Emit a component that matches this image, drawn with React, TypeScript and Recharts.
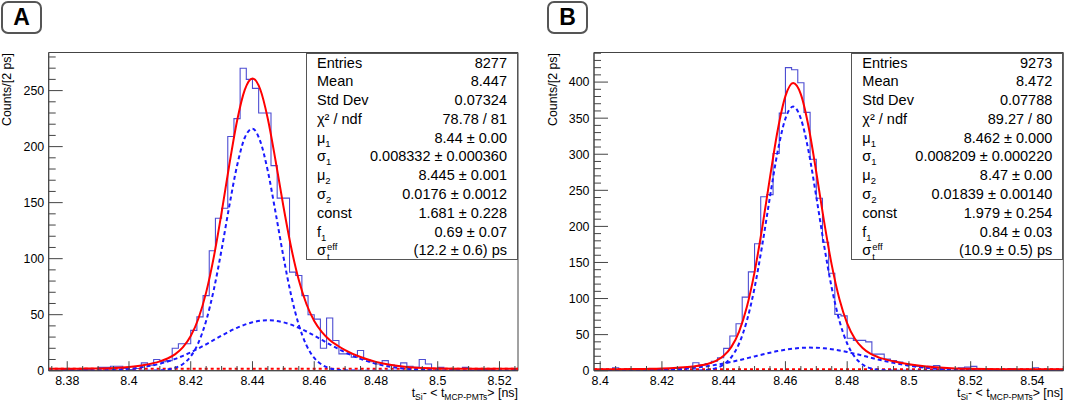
import React from 'react';
import { ComposedChart, Line, XAxis, YAxis, ReferenceLine, ReferenceArea } from 'recharts';

const FONT = '"Liberation Sans", Arial, Helvetica, sans-serif';

// ---------- data ----------
const binWidth = 0.002;
const aStart = 8.374;
const aEnd = 8.526;
const bStart = 8.398;
const bEnd = 8.55;

const aCounts = [
  2, 2, 1, 1, 0, 1, 1, 2, 3, 3,
  4, 4, 2, 1, 2, 7, 5, 10, 8, 9,
  20, 24, 24, 36, 48, 67, 107, 136, 145, 209,
  225, 270, 260, 252, 230, 230, 183, 154, 154, 88,
  85, 67, 50, 46, 20, 47, 27, 15, 15, 12,
  18, 10, 8, 6, 9, 5, 4, 7, 4, 3,
  10, 6, 2, 3, 2, 1, 2, 3, 2, 1,
  1, 1, 0, 0, 2, 1,
];

const bCounts = [
  1, 2, 1, 4, 1, 0, 1, 2, 1, 2,
  3, 2, 1, 3, 4, 5, 11, 8, 10, 13,
  18, 31, 48, 65, 102, 137, 176, 241, 244, 301,
  357, 420, 417, 399, 358, 293, 239, 178, 135, 78,
  76, 45, 42, 42, 40, 23, 23, 16, 14, 12,
  10, 8, 6, 5, 6, 7, 4, 3, 3, 4,
  5, 6, 3, 2, 2, 1, 2, 3, 1, 2,
  1, 4, 2, 1, 2, 2,
];

const aFitX = [
  8.374, 8.38, 8.385, 8.39, 8.395, 8.4, 8.405, 8.41, 8.4125, 8.415,
  8.4175, 8.42, 8.4225, 8.425, 8.4275, 8.43, 8.4325, 8.435, 8.4375, 8.44,
  8.4425, 8.445, 8.4475, 8.45, 8.4525, 8.455, 8.4575, 8.46, 8.4625, 8.465,
  8.4675, 8.47, 8.475, 8.48, 8.485, 8.49, 8.495, 8.5, 8.51, 8.526,
];
const aTotal = [
  1.7, 1.75, 1.85, 2.05, 2.5, 3.4, 5.1, 8.3, 10.9, 14.8,
  21.0, 30.9, 46.6, 69.9, 101.8, 141.1, 183.8, 222.9, 250.7, 260.9,
  251.2, 224.5, 187.2, 147, 110.4, 80.9, 59.3, 44.4, 34.5, 27.5,
  22.5, 18.4, 12.2, 7.9, 5.1, 3.4, 2.5, 2.0, 1.75, 1.7,
];
const aNarrow = [
  0, 0, 0, 0, 0, 0, 0, 0.36, 1.0, 2.6,
  6.0, 12.8, 25.0, 44.6, 72.6, 108.1, 147.1, 182.9, 207.9, 216,
  204.9, 177.8, 140.9, 102.1, 67.6, 40.9, 22.6, 11.4, 5.3, 2.2,
  0.86, 0.3, 0.03, 0, 0, 0, 0, 0, 0, 0,
];
const aWide = [
  0.02, 0.05, 0.13, 0.34, 0.8, 1.71, 3.4, 6.2, 8.2, 10.5,
  13.3, 16.4, 19.9, 23.6, 27.5, 31.3, 35.0, 38.3, 41.1, 43.2,
  44.6, 45, 44.6, 43.2, 41.1, 38.3, 35.0, 31.3, 27.5, 23.6,
  19.9, 16.4, 10.5, 6.2, 3.4, 1.71, 0.8, 0.34, 0.05, 0.01,
];
const aConst = 1.681;

const bFitX = [
  8.398, 8.405, 8.41, 8.415, 8.42, 8.425, 8.43, 8.435, 8.4375, 8.44,
  8.4425, 8.445, 8.4475, 8.45, 8.4525, 8.455, 8.4575, 8.46, 8.4625, 8.465,
  8.4675, 8.47, 8.4725, 8.475, 8.4775, 8.48, 8.4825, 8.485, 8.4875, 8.49,
  8.495, 8.5, 8.505, 8.51, 8.515, 8.52, 8.53, 8.55,
];
const bTotal = [
  2.0, 2.07, 2.2, 2.5, 3.0, 4.1, 5.9, 9.7, 13.6, 20.6,
  33, 54.3, 88.2, 136.6, 198.7, 268, 333.3, 380.5, 398.6, 383,
  338.1, 275, 207.4, 146.6, 99, 65.6, 44.3, 31.5, 23.7, 18.9,
  13, 9, 6.2, 4.35, 3.2, 2.6, 2.1, 2.0,
];
const bNarrow = [
  0, 0, 0, 0, 0, 0, 0.14, 1.34, 3.5, 8.6,
  18.8, 37.7, 69, 114.8, 174.3, 241.1, 304.1, 349.4, 366, 349.4,
  304.1, 241.1, 174.3, 114.8, 69, 37.7, 18.8, 8.6, 3.5, 1.34,
  0.14, 0, 0, 0, 0, 0, 0, 0,
];
const bWide = [
  0.02, 0.09, 0.22, 0.5, 1.06, 2.08, 3.8, 6.4, 8.1, 10.0,
  12.2, 14.6, 17.2, 19.8, 22.4, 24.9, 27.2, 29.1, 30.6, 31.6,
  32, 31.9, 31.1, 29.8, 28.0, 25.9, 23.5, 20.9, 18.2, 15.6,
  10.9, 7.0, 4.2, 2.35, 1.22, 0.59, 0.11, 0.0,
];
const bConst = 1.979;

const aXMajor = [8.38, 8.4, 8.42, 8.44, 8.46, 8.48, 8.5, 8.52];
const bXMajor = [8.4, 8.42, 8.44, 8.46, 8.48, 8.5, 8.52, 8.54];
const aYMajor = [0, 50, 100, 150, 200, 250];
const bYMajor = [0, 50, 100, 150, 200, 250, 300, 350, 400];
const aYMax = 284;
const bYMax = 441;

const statLabelsKeys = ['Entries', 'Mean', 'Std Dev', 'chi', 'mu1', 'sigma1', 'mu2', 'sigma2', 'const', 'f1', 'seff'];
const aStatValues = ['8277', '8.447', '0.07324', '78.78 / 81', '8.44 ± 0.00', '0.008332 ± 0.000360', '8.445 ± 0.001', '0.0176 ± 0.0012', '1.681 ± 0.228', '0.69 ± 0.07', '(12.2 ± 0.6) ps'];
const bStatValues = ['9273', '8.472', '0.07788', '89.27 / 80', '8.462 ± 0.000', '0.008209 ± 0.000220', '8.47 ± 0.00', '0.01839 ± 0.00140', '1.979 ± 0.254', '0.84 ± 0.03', '(10.9 ± 0.5) ps'];

// ---------- helpers ----------
function range(from: number, to: number, step: number) {
  const out: number[] = [];
  for (let i = 0; from + i * step <= to + 1e-9; i++) out.push(+(from + i * step).toFixed(4));
  return out;
}
const fmt = (v: number) => String(parseFloat(v.toFixed(3)));

function histPoints(start: number, counts: number[]) {
  const pts = counts.map((c, i) => ({ x: +(start + i * binWidth).toFixed(4), y: c }));
  pts.push({ x: +(start + counts.length * binWidth).toFixed(4), y: counts[counts.length - 1] });
  return pts;
}
function curve(xs: number[], ys: number[]) {
  return xs.map((x, i) => ({ x, y: ys[i] }));
}

const HIST = '#4d4dd2';
const AXIS = '#444';

const Sub = ({ children }: { children: React.ReactNode }) => (
  <span style={{ fontSize: 9.5, position: 'relative', top: 4 }}>{children}</span>
);

function statLabel(k: string): React.ReactNode {
  switch (k) {
    case 'chi':
      return <span>χ² / ndf</span>;
    case 'mu1':
      return <span>μ<Sub>1</Sub></span>;
    case 'mu2':
      return <span>μ<Sub>2</Sub></span>;
    case 'sigma1':
      return <span>σ<Sub>1</Sub></span>;
    case 'sigma2':
      return <span>σ<Sub>2</Sub></span>;
    case 'f1':
      return <span>f<Sub>1</Sub></span>;
    case 'seff':
      return (
        <span>
          σ
          <span style={{ display: 'inline-block', position: 'relative', width: 20, height: 14 }}>
            <span style={{ position: 'absolute', left: 1, top: 1, fontSize: 9.5, lineHeight: 1 }}>eff</span>
            <span style={{ position: 'absolute', left: 1, top: 11, fontSize: 9.5, lineHeight: 1 }}>t</span>
          </span>
        </span>
      );
    default:
      return <span>{k}</span>;
  }
}

const XTick = (props: any) => {
  const { x, payload, majors, axisY } = props;
  const v = payload.value as number;
  const isMajor = majors.some((m: number) => Math.abs(m - v) < 1e-6);
  const y0 = axisY;
  return (
    <g>
      <line x1={x} x2={x} y1={y0} y2={y0 - (isMajor ? 9.5 : 4.7)} stroke={AXIS} strokeWidth={1} />
      {isMajor && (
        <text x={x} y={y0 + 14} textAnchor="middle" fontSize={12.4} fontFamily={FONT} fill="#000">
          {fmt(v)}
        </text>
      )}
    </g>
  );
};

const YTick = (props: any) => {
  const { y, payload, majors, axisX } = props;
  const v = payload.value as number;
  const isMajor = majors.includes(v);
  const x0 = axisX;
  return (
    <g>
      <line x1={x0} x2={x0 + (isMajor ? 14 : 7)} y1={y} y2={y} stroke={AXIS} strokeWidth={1} />
      {isMajor && (
        <text x={x0 - 4.5} y={y + 4.4} textAnchor="end" fontSize={12.4} fontFamily={FONT} fill="#000">
          {v}
        </text>
      )}
    </g>
  );
};

type PanelCfg = {
  letter: string;
  left: number;
  width: number;
  plotLeft: number;
  plotRight: number;
  start: number;
  end: number;
  counts: number[];
  fitX: number[];
  total: number[];
  narrow: number[];
  wide: number[];
  constant: number;
  xMajor: number[];
  yMajor: number[];
  yMax: number;
  stats: string[];
};

const PLOT_TOP = 52.5;
const PLOT_BOTTOM = 370.7;
const H = 401;

const panels: PanelCfg[] = [
  {
    letter: 'A', left: 0, width: 530, plotLeft: 48.7, plotRight: 518,
    start: aStart, end: aEnd, counts: aCounts, fitX: aFitX, total: aTotal, narrow: aNarrow, wide: aWide,
    constant: aConst, xMajor: aXMajor, yMajor: aYMajor, yMax: aYMax, stats: aStatValues,
  },
  {
    letter: 'B', left: 546, width: 519, plotLeft: 594, plotRight: 1063.3,
    start: bStart, end: bEnd, counts: bCounts, fitX: bFitX, total: bTotal, narrow: bNarrow, wide: bWide,
    constant: bConst, xMajor: bXMajor, yMajor: bYMajor, yMax: bYMax, stats: bStatValues,
  },
];

const AXIS_W = 20;
const AXIS_H = 20;

function Panel({ cfg }: { cfg: PanelCfg }) {
  const mLeft = cfg.plotLeft - cfg.left;
  const mRight = cfg.left + cfg.width - cfg.plotRight;
  const xTicks = range(Math.ceil(cfg.start / 0.005 - 1e-6) * 0.005, cfg.end, 0.005);
  const yTicks = range(0, Math.floor(cfg.yMax / 10) * 10, 10);
  const hist = histPoints(cfg.start, cfg.counts);
  const boxW = 212;
  return (
    <div style={{ position: 'absolute', left: cfg.left, top: 0, width: cfg.width, height: H }}>
      <ComposedChart
        width={cfg.width}
        height={H}
        margin={{ top: PLOT_TOP, right: mRight, bottom: H - PLOT_BOTTOM - AXIS_H, left: mLeft - AXIS_W }}
      >
        <XAxis
          type="number"
          dataKey="x"
          domain={[cfg.start, cfg.end]}
          allowDataOverflow
          ticks={xTicks}
          interval={0}
          height={AXIS_H}
          tickSize={0}
          tickMargin={0}
          tickLine={false}
          axisLine={{ stroke: AXIS, strokeWidth: 1 }}
          tick={(p: any) => <XTick {...p} majors={cfg.xMajor} axisY={PLOT_BOTTOM} />}
        />
        <YAxis
          type="number"
          dataKey="y"
          domain={[0, cfg.yMax]}
          allowDataOverflow
          ticks={yTicks}
          interval={0}
          width={AXIS_W}
          tickSize={0}
          tickMargin={0}
          tickLine={false}
          axisLine={{ stroke: AXIS, strokeWidth: 1 }}
          tick={(p: any) => <YTick {...p} majors={cfg.yMajor} axisX={mLeft} />}
        />
        <ReferenceArea
          x1={cfg.start}
          x2={cfg.end}
          y1={0}
          y2={cfg.yMax}
          fill="none"
          fillOpacity={0}
          stroke={AXIS}
          strokeWidth={1}
        />
        <Line
          data={hist}
          dataKey="y"
          type="stepAfter"
          stroke={HIST}
          strokeWidth={1.1}
          dot={false}
          activeDot={false}
          isAnimationActive={false}
        />
        <ReferenceLine y={cfg.constant} stroke="#ff0000" strokeWidth={2} strokeDasharray="3 3" />
        <Line
          data={curve(cfg.fitX, cfg.narrow)}
          dataKey="y"
          type="monotone"
          stroke="#1a1aff"
          strokeWidth={2}
          strokeDasharray="4 3"
          dot={false}
          activeDot={false}
          isAnimationActive={false}
        />
        <Line
          data={curve(cfg.fitX, cfg.wide)}
          dataKey="y"
          type="monotone"
          stroke="#1a1aff"
          strokeWidth={2}
          strokeDasharray="4 3"
          dot={false}
          activeDot={false}
          isAnimationActive={false}
        />
        <Line
          data={curve(cfg.fitX, cfg.total)}
          dataKey="y"
          type="monotone"
          stroke="#ff0000"
          strokeWidth={2}
          dot={false}
          activeDot={false}
          isAnimationActive={false}
        />
      </ComposedChart>

      {/* panel badge */}
      <div
        style={{
          position: 'absolute', left: 1, top: 1, width: 41, height: 33, boxSizing: 'border-box',
          border: '2.5px solid #555', borderRadius: 7, display: 'flex', alignItems: 'center',
          justifyContent: 'center', fontFamily: FONT, fontWeight: 'bold', fontSize: 23, color: '#000',
        }}
      >
        {cfg.letter}
      </div>

      {/* y axis title */}
      <div
        style={{
          position: 'absolute', left: 0, top: PLOT_TOP + 200, width: 200, height: 14, lineHeight: '14px',
          textAlign: 'right', transform: 'rotate(-90deg)', transformOrigin: '0 0',
          fontFamily: FONT, fontSize: 12.4, color: '#000', whiteSpace: 'nowrap',
        }}
      >
        Counts/[2 ps]
      </div>

      {/* x axis title */}
      <div
        style={{
          position: 'absolute', right: mRight, top: 387, height: 12, lineHeight: '12px',
          fontFamily: FONT, fontSize: 12.4, color: '#000', whiteSpace: 'nowrap',
        }}
      >
        t<span style={{ fontSize: 8.5, position: 'relative', top: 2.5 }}>Si</span>- &lt; t
        <span style={{ fontSize: 8.5, position: 'relative', top: 2.5 }}>MCP-PMTs</span>&gt; [ns]
      </div>

      {/* stats box */}
      <div
        style={{
          position: 'absolute', left: mLeft + (cfg.plotRight - cfg.plotLeft) - boxW, top: PLOT_TOP,
          width: boxW, height: 207, boxSizing: 'border-box', border: '1px solid #555', background: '#fff',
          fontFamily: FONT, fontSize: 14.5, color: '#000', padding: '0 10px 0 10px',
        }}
      >
        {statLabelsKeys.map((k, i) => (
          <div
            key={k}
            style={{ display: 'flex', justifyContent: 'space-between', height: 18.8, lineHeight: '18.8px', whiteSpace: 'nowrap' }}
          >
            {statLabel(k)}
            <span>{cfg.stats[i]}</span>
          </div>
        ))}
      </div>
    </div>
  );
}

export default function App() {
  return (
    <div style={{ position: 'absolute', left: 0, top: 0, width: 1065, height: 401, background: '#fff', overflow: 'hidden' }}>
      {panels.map((p) => (
        <Panel key={p.letter} cfg={p} />
      ))}
    </div>
  );
}
